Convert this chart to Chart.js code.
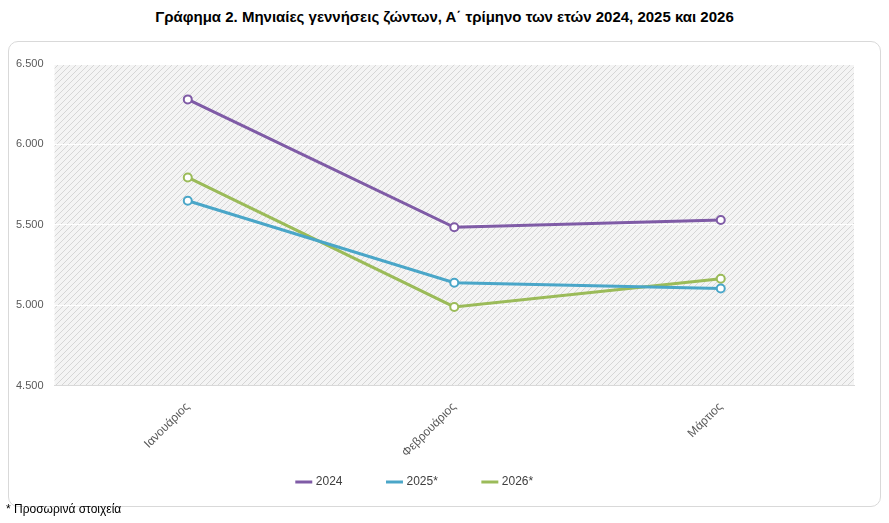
<!DOCTYPE html>
<html><head><meta charset="utf-8">
<script src="https://cdn.jsdelivr.net/npm/chart.js@4/dist/chart.umd.min.js"></script>
<style>
  body { margin:0; background:#fff; font-family:"Liberation Sans", Arial, sans-serif; }
  #title { position:absolute; left:0; top:8px; width:889px; text-align:center; font-weight:bold; font-size:15px; color:#000; }
  #box { position:absolute; left:8px; top:41px; width:871px; height:464px; border:1px solid #d9d9d9; border-radius:10px; }
  #foot { position:absolute; left:6px; top:502px; font-size:12px; color:#000; }
</style></head>
<body>
<div id="title">Γράφημα 2. Μηνιαίες γεννήσεις ζώντων, Α΄ τρίμηνο των ετών 2024, 2025 και 2026</div>
<div id="box"><canvas id="c" width="871" height="464"></canvas></div>
<div id="foot">* Προσωρινά στοιχεία</div>
<script>
const months = ["Ιανουάριος", "Φεβρουάριος", "Μάρτιος"]
const births2024 = [6280, 5485, 5530]
const births2025 = [5650, 5140, 5105]
const births2026 = [5795, 4990, 5165]

const hatch = (() => {
  const p = document.createElement("canvas")
  p.width = 6; p.height = 6
  const g = p.getContext("2d")
  g.fillStyle = "#f4f4f4"; g.fillRect(0, 0, 6, 6)
  g.strokeStyle = "#d6d6d6"; g.lineWidth = 1
  g.beginPath(); g.moveTo(0, 6); g.lineTo(6, 0); g.moveTo(-1, 1); g.lineTo(1, -1); g.moveTo(5, 7); g.lineTo(7, 5); g.stroke()
  return p
})()

const bgPlugin = {
  id: "hatchBg",
  beforeDraw(chart) {
    const { ctx, chartArea: a } = chart
    ctx.save()
    ctx.fillStyle = ctx.createPattern(hatch, "repeat")
    ctx.fillRect(a.left, a.top, a.right - a.left, a.bottom - a.top)
    ctx.restore()
  }
}

const ds = (label, data, color) => ({
  label, data,
  borderColor: color, backgroundColor: "#fff",
  borderWidth: 3, pointRadius: 4, pointBorderWidth: 2,
  pointBackgroundColor: "#fff", pointBorderColor: color, tension: 0
})

Chart.defaults.font.family = "'Liberation Sans', Arial, sans-serif"
new Chart(document.getElementById("c"), {
  type: "line",
  data: {
    labels: months,
    datasets: [
      ds("2024", births2024, "#7f5ba6"),
      ds("2025*", births2025, "#4aa6c8"),
      ds("2026*", births2026, "#9bbb59")
    ]
  },
  plugins: [bgPlugin],
  options: {
    responsive: false, animation: false,
    layout: { padding: { left: 4, right: 26, top: 22, bottom: 8 } },
    plugins: {
      legend: {
        position: "bottom",
        labels: { usePointStyle: true, pointStyle: "line", color: "#404040", font: { size: 12 }, boxWidth: 36, padding: 10,
          generateLabels(chart) {
            return chart.data.datasets.map((d, i) => ({ text: d.label + "\u2003\u2003\u2003", strokeStyle: d.borderColor, fillStyle: d.borderColor, lineWidth: 3, pointStyle: "line", datasetIndex: i, fontColor: "#404040" }))
          }
        }
      },
      tooltip: { enabled: false }
    },
    scales: {
      x: {
        offset: true,
        grid: { display: false },
        border: { color: "#d9d9d9" },
        ticks: { color: "#595959", font: { size: 12 }, maxRotation: 45, minRotation: 45, padding: 6 }
      },
      y: {
        min: 4500, max: 6500,
        ticks: { stepSize: 500, color: "#595959", font: { size: 11 },
          callback: v => v.toLocaleString("el-GR", { minimumFractionDigits: 0 }).replace(/\s/g, ".") },
        grid: { color: "#ffffff", lineWidth: 1 },
        border: { display: false }
      }
    }
  }
})
</script>
</body></html>
